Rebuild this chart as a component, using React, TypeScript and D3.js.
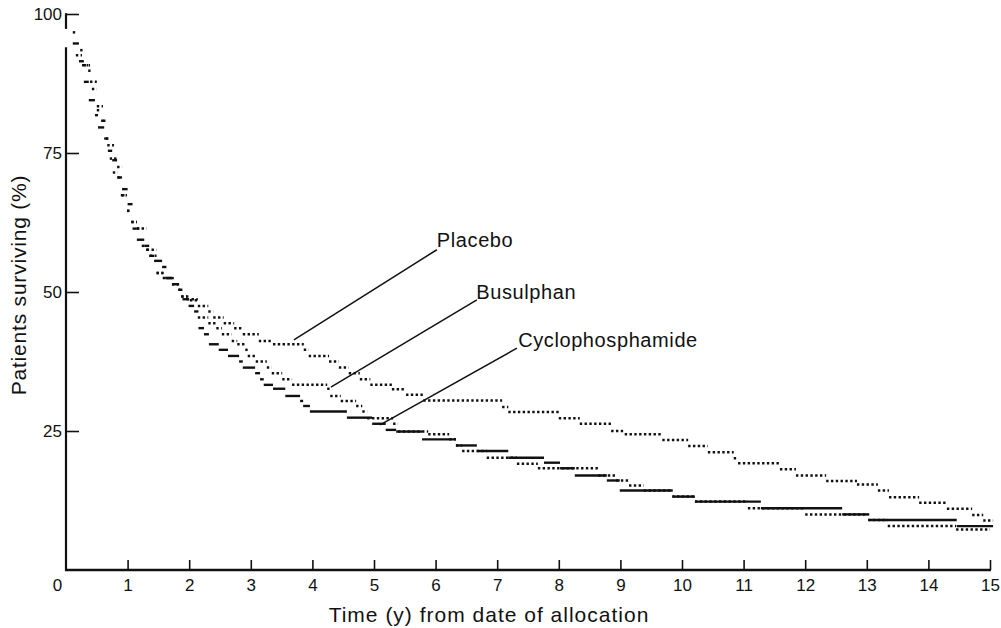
import React, { useEffect, useRef } from 'react';
import * as d3 from 'd3';

// Kaplan-Meier steps: start time (years) of each step, survival (%) on that step.
// The last entry of each times array is where the curve stops.
const placeboTimes = [0.11, 0.16, 0.26, 0.36, 0.42, 0.50, 0.60, 0.67, 0.78, 0.83, 0.91, 0.99, 1.06, 1.15, 1.31, 1.47, 1.57, 1.72, 1.87, 1.96, 2.14, 2.31, 2.39, 2.56, 2.73, 2.87, 3.13, 3.36, 3.86, 3.94, 4.27, 4.43, 4.59, 4.77, 4.94, 5.29, 5.52, 5.80, 7.08, 7.18, 8.00, 8.34, 8.85, 9.07, 9.68, 10.10, 10.42, 10.84, 10.91, 11.59, 11.85, 12.34, 12.84, 13.18, 13.36, 13.85, 14.30, 14.71, 14.89, 15.05];
const placeboSurv = [96.7, 92.6, 90.8, 89.8, 86.5, 83.4, 80.8, 76.4, 74.0, 72.5, 67.4, 64.6, 62.6, 61.4, 57.6, 53.4, 52.5, 51.4, 49.2, 48.7, 47.5, 46.5, 45.4, 44.4, 43.5, 42.4, 41.2, 40.6, 39.6, 38.5, 37.5, 36.4, 35.4, 34.3, 33.3, 32.5, 31.5, 30.5, 29.3, 28.4, 27.3, 26.3, 25.0, 24.4, 23.4, 22.3, 21.2, 20.1, 19.2, 18.1, 17.0, 16.0, 15.4, 14.3, 13.1, 12.1, 11.0, 9.9, 8.9];

const busulphanTimes = [0.23, 0.29, 0.39, 0.50, 0.57, 0.65, 0.71, 0.76, 0.84, 0.89, 0.99, 1.06, 1.15, 1.23, 1.30, 1.36, 1.47, 1.61, 1.72, 1.82, 1.87, 2.01, 2.14, 2.31, 2.44, 2.53, 2.69, 2.78, 2.91, 2.95, 3.08, 3.26, 3.34, 3.51, 3.67, 4.24, 4.29, 4.46, 4.71, 4.81, 4.89, 5.31, 5.39, 5.88, 6.22, 6.33, 6.43, 6.83, 7.32, 7.66, 8.64, 8.93, 9.14, 9.38, 9.84, 10.21, 11.07, 12.00, 13.02, 13.34, 14.45, 15.00];
const busulphanSurv = [93.5, 90.8, 87.8, 82.7, 80.8, 77.6, 74.0, 71.5, 70.6, 67.4, 64.6, 62.6, 61.4, 58.3, 57.6, 56.5, 53.4, 52.5, 51.4, 50.4, 49.2, 48.5, 45.4, 44.4, 43.5, 42.4, 41.2, 40.6, 39.6, 38.5, 37.5, 36.4, 35.4, 34.3, 33.3, 32.6, 31.3, 30.4, 29.5, 28.5, 27.3, 26.3, 24.9, 24.4, 23.5, 22.4, 21.4, 20.2, 19.1, 18.3, 17.0, 16.1, 15.2, 14.3, 13.2, 12.3, 11.1, 10.0, 9.0, 7.9, 7.3];

const cycloTimes = [0.11, 0.21, 0.29, 0.37, 0.47, 0.52, 0.62, 0.68, 0.75, 0.83, 0.91, 1.00, 1.08, 1.15, 1.27, 1.35, 1.43, 1.56, 1.63, 1.75, 1.83, 1.89, 1.99, 2.08, 2.15, 2.24, 2.32, 2.48, 2.63, 2.81, 2.87, 3.07, 3.15, 3.21, 3.36, 3.56, 3.80, 3.85, 3.96, 4.56, 4.97, 5.19, 5.36, 5.78, 6.33, 6.67, 7.18, 7.76, 8.02, 8.26, 8.78, 8.99, 9.85, 10.21, 11.28, 12.60, 13.04, 14.46, 15.05];
const cycloSurv = [94.7, 91.5, 87.8, 84.5, 81.8, 79.6, 77.6, 75.4, 73.7, 70.6, 68.5, 65.8, 61.4, 59.4, 58.3, 56.5, 55.6, 54.5, 52.5, 51.4, 50.4, 48.7, 47.5, 46.5, 43.5, 42.4, 40.6, 39.6, 38.5, 37.5, 36.4, 35.4, 34.3, 33.3, 32.6, 31.3, 30.4, 29.5, 28.5, 27.4, 26.3, 25.2, 24.9, 23.5, 22.4, 21.4, 20.2, 19.3, 18.3, 17.0, 16.1, 14.3, 13.2, 12.3, 11.1, 10.0, 9.0, 7.9];

const yearTicks = [0, 1, 2, 3, 4, 5, 6, 7, 8, 9, 10, 11, 12, 13, 14, 15];
const survTicks = [25, 50, 75, 100];

// label, text anchor point, leader line start and end (data units)
const labels = ['Placebo', 'Busulphan', 'Cyclophosphamide'];
const labelPos = [[6.02, 58.1], [6.66, 48.7], [7.34, 40.1]];
const leaderFrom = [[6.02, 57.6], [6.67, 48.6], [7.32, 39.9]];
const leaderTo = [[3.70, 41.4], [4.30, 32.9], [5.10, 26.1]];

const App = () => {
    const svgRef = useRef<SVGSVGElement>(null);

    useEffect(() => {
        const width = 1001;
        const height = 628;
        const ink = '#111';
        const font = '"Liberation Sans", Arial, Helvetica, sans-serif';

        const svg = d3.select(svgRef.current);
        svg.selectAll('*').remove();
        svg.attr('width', width).attr('height', height);
        svg.append('rect').attr('width', width).attr('height', height).attr('fill', '#fff');

        const x = d3.scaleLinear().domain([0, 15]).range([66, 990]);
        const y = d3.scaleLinear().domain([0, 100]).range([570, 14]);

        // x axis: ticks point up into the plot
        const gx = svg.append('g')
            .attr('transform', `translate(0,${y(0)})`)
            .call(d3.axisBottom(x).tickValues(yearTicks).tickSizeInner(-10).tickSizeOuter(0).tickPadding(9).tickFormat(d3.format('d')));
        gx.select('.domain').remove();
        gx.selectAll('line').attr('stroke', ink).attr('stroke-width', 1.6);
        gx.attr('font-family', font).attr('font-size', 17);
        gx.selectAll('text').attr('fill', ink).attr('dx', (d: any) => (d === 0 ? -9 : 0));
        gx.selectAll('.tick').filter((d: any) => d === 0).select('line').remove();

        // y axis: ticks point right
        const gy = svg.append('g')
            .attr('transform', `translate(${x(0)},0)`)
            .call(d3.axisLeft(y).tickValues(survTicks).tickSizeInner(-13).tickSizeOuter(0).tickPadding(4));
        gy.select('.domain').remove();
        gy.selectAll('line').attr('stroke', ink).attr('stroke-width', 1.6);
        gy.attr('font-family', font).attr('font-size', 17);
        gy.selectAll('text').attr('fill', ink);

        // axis lines (the vertical one is broken just below 100 in the original)
        svg.append('line')
            .attr('x1', x(0) - 1).attr('x2', x(15) + 1)
            .attr('y1', y(0)).attr('y2', y(0))
            .attr('stroke', ink).attr('stroke-width', 2.4);
        [[100, 97.5], [94, 0]].forEach(([a, b]) => {
            svg.append('line')
                .attr('x1', x(0)).attr('x2', x(0))
                .attr('y1', y(a) - (a === 100 ? 0.8 : 0)).attr('y2', y(b) + 1)
                .attr('stroke', ink).attr('stroke-width', 2.2);
        });

        // step curves: horizontal treads only, as in the printed figure
        const drawSteps = (times: number[], surv: number[], dotted: boolean) => {
            const segs = surv.map((s, i) => ({ t0: times[i], t1: times[i + 1], s }));
            svg.append('g')
                .selectAll('line')
                .data(segs)
                .enter()
                .append('line')
                .attr('x1', d => x(d.t0))
                .attr('x2', d => x(d.t1))
                .attr('y1', d => y(d.s))
                .attr('y2', d => y(d.s))
                .attr('stroke', ink)
                .attr('stroke-width', dotted ? 2.5 : 2.4)
                .attr('stroke-dasharray', dotted ? '2.4 2.4' : null);
        };
        drawSteps(cycloTimes, cycloSurv, false);
        drawSteps(busulphanTimes, busulphanSurv, true);
        drawSteps(placeboTimes, placeboSurv, true);

        // labels with leader lines
        labels.forEach((name, i) => {
            svg.append('line')
                .attr('x1', x(leaderFrom[i][0])).attr('y1', y(leaderFrom[i][1]))
                .attr('x2', x(leaderTo[i][0])).attr('y2', y(leaderTo[i][1]))
                .attr('stroke', ink).attr('stroke-width', 1.5);
            svg.append('text')
                .attr('x', x(labelPos[i][0]))
                .attr('y', y(labelPos[i][1]))
                .attr('font-family', font)
                .attr('font-size', 20)
                .attr('letter-spacing', 0.6)
                .attr('fill', ink)
                .text(name);
        });

        // axis titles
        svg.append('text')
            .attr('x', 489)
            .attr('y', 622)
            .attr('text-anchor', 'middle')
            .attr('font-family', font)
            .attr('font-size', 21)
            .attr('letter-spacing', 1)
            .attr('fill', ink)
            .text('Time (y) from date of allocation');

        svg.append('text')
            .attr('transform', 'rotate(-90)')
            .attr('x', -285)
            .attr('y', 26)
            .attr('text-anchor', 'middle')
            .attr('font-family', font)
            .attr('font-size', 21)
            .attr('letter-spacing', 0.8)
            .attr('fill', ink)
            .text('Patients surviving (%)');
    }, []);

    return <svg ref={svgRef} style={{ position: 'absolute', left: 0, top: 0, display: 'block' }}></svg>;
};

export default App;
